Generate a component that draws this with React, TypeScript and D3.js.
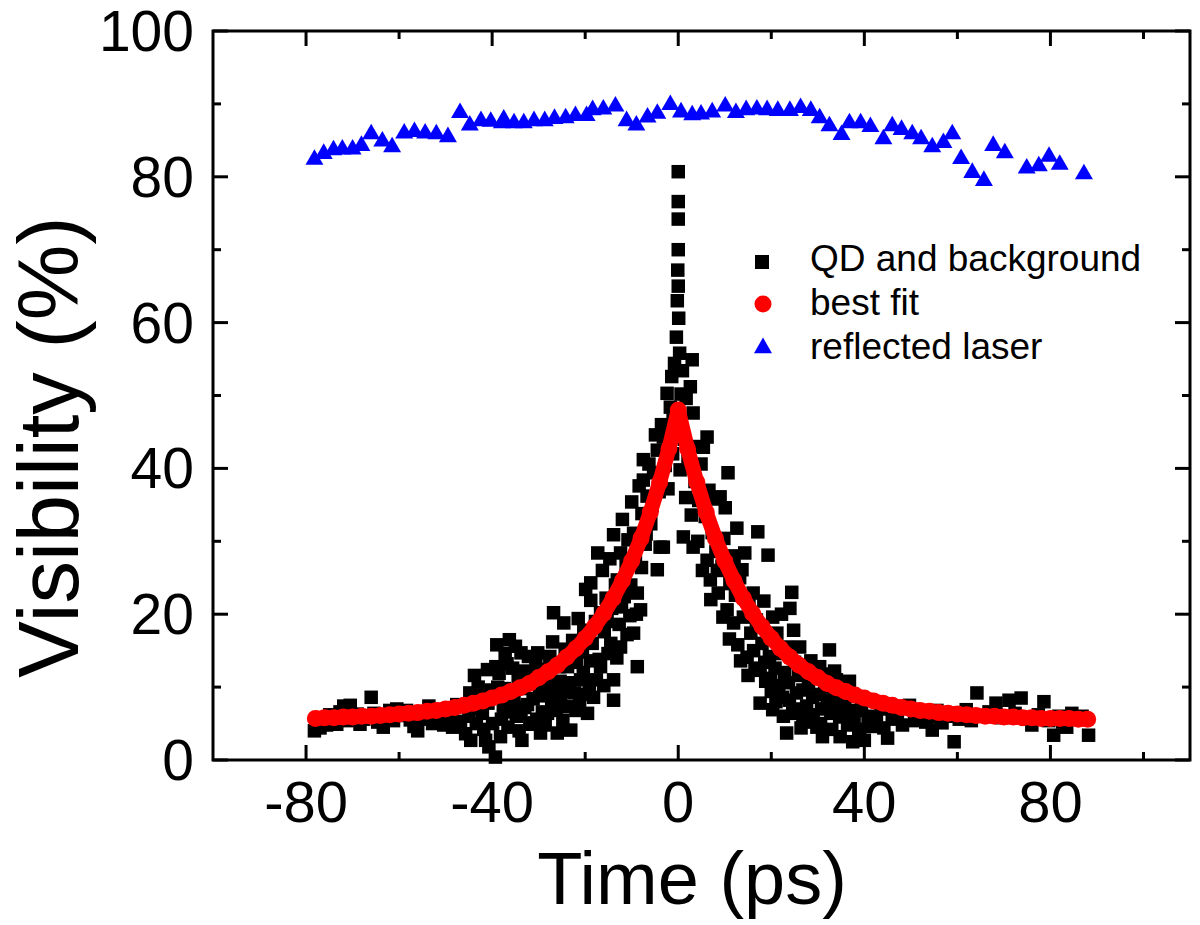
import React from "react";
import * as d3 from "d3";

// QD and background (time ps, visibility %)
const qdData: [number, number][] = [
  [-78.2,4.0],[-77.6,5.2],[-77.0,4.4],[-76.3,5.6],[-75.6,4.8],[-74.9,6.2],[-74.2,5.0],[-73.4,4.9],[-72.7,6.6],[-71.9,7.4],
  [-71.2,5.4],[-70.5,7.5],[-69.8,5.9],[-69.0,6.3],[-68.4,4.9],[-67.6,5.6],[-66.9,6.0],[-66.0,8.6],[-65.4,6.4],[-64.6,5.2],
  [-63.4,4.5],[-62.7,5.8],[-62.0,6.8],[-61.2,5.4],[-60.5,7.0],[-59.8,6.1],[-58.4,6.8],[-57.6,5.5],[-56.8,4.6],[-56.0,4.0],
  [-55.2,6.3],[-54.4,5.6],[-53.6,7.4],[-52.8,5.0],[-52.0,5.4],[-51.2,6.2],[-50.4,4.8],[-49.6,6.9],[-48.8,5.4],[-48.5,4.5],
  [-47.6,7.6],[-46.8,5.3],[-45.7,3.6],[-45.0,6.0],[-44.6,2.7],[-44.0,8.8],[-43.4,5.0],[-43.0,10.0],[-42.4,8.2],[-42.1,6.4],
  [-41.4,2.7],[-41.0,12.4],[-40.7,1.8],[-40.2,9.6],[-39.6,8.6],[-39.3,0.4],[-39.0,15.8],[-38.8,10.0],[-38.5,11.9],[-38.0,5.6],
  [-37.6,7.2],[-37.2,14.6],[-36.6,4.5],[-36.3,16.5],[-36.0,9.4],[-35.6,12.6],[-35.3,8.2],[-34.8,6.0],[-34.4,11.0],[-33.8,14.7],
  [-33.8,6.4],[-33.6,2.7],[-33.2,9.8],[-32.8,12.2],[-32.4,7.6],[-31.9,4.9],[-31.5,10.4],[-31.0,11.9],[-31.0,5.1],[-30.6,13.6],
  [-30.2,14.7],[-29.8,8.8],[-29.6,3.7],[-29.2,6.6],[-28.8,12.4],[-28.4,9.4],[-28.1,11.0],[-28.1,6.4],[-27.6,14.2],[-27.2,7.8],
  [-26.8,20.2],[-26.4,10.2],[-26.0,3.7],[-25.6,12.8],[-25.2,8.6],[-24.6,18.8],[-24.3,15.2],[-23.8,12.8],[-23.8,7.3],[-23.4,10.6],
  [-23.1,4.1],[-22.7,16.4],[-22.3,9.2],[-21.9,13.4],[-21.5,19.4],[-21.0,11.0],[-20.6,14.8],[-20.3,17.8],[-19.9,23.4],[-19.5,6.4],
  [-19.1,10.4],[-18.8,24.3],[-18.8,21.9],[-18.5,16.0],[-18.2,8.6],[-17.8,19.0],[-17.3,28.4],[-17.0,13.8],[-16.7,20.2],[-16.7,12.8],
  [-16.3,26.0],[-15.9,17.6],[-15.5,22.2],[-15.1,14.6],[-14.7,27.6],[-14.3,20.8],[-13.9,30.9],[-13.9,11.0],[-13.9,8.2],[-13.5,24.0],
  [-13.1,24.7],[-12.7,18.6],[-12.4,28.4],[-12.4,15.5],[-12.0,33.0],[-11.6,22.4],[-11.2,26.8],[-10.8,30.2],[-10.4,19.8],[-10.0,35.4],
  [-9.6,31.1],[-9.6,17.4],[-9.2,27.2],[-8.8,22.9],[-8.8,12.8],[-8.4,37.6],[-8.1,20.6],[-7.8,33.8],[-7.5,41.2],[-7.5,38.4],
  [-7.1,29.6],[-6.7,36.2],[-6.3,40.6],[-5.9,32.4],[-5.3,39.4],[-4.9,44.6],[-4.5,42.5],[-4.5,26.1],[-4.1,36.8],[-3.9,29.2],
  [-3.6,46.0],[-3.2,44.3],[-3.2,29.2],[-2.8,40.4],[-2.4,50.3],[-2.0,45.6],[-1.7,48.4],[-1.4,52.6],[-1.1,46.6],[-0.8,54.4],
  [-0.4,58.0],[-0.2,63.0],[0.0,80.7],[0.0,76.6],[0.0,74.2],[0.0,70.0],[-0.1,67.2],[0.0,65.0],[0.1,60.6],[0.3,55.8],
  [0.4,39.8],[0.6,50.2],[0.9,53.4],[1.1,30.6],[1.3,44.0],[1.7,49.6],[2.1,41.6],[2.6,51.2],[3.0,54.9],[3.2,47.6],
  [3.2,29.2],[3.6,38.2],[4.0,43.0],[4.4,35.6],[4.9,40.6],[5.4,42.9],[5.8,33.4],[6.2,44.3],[6.2,27.4],[6.6,37.0],
  [6.9,24.7],[7.3,31.2],[7.7,35.8],[8.1,28.6],[8.6,22.9],[9.0,36.1],[9.4,26.6],[9.8,30.4],[10.1,34.6],[10.5,20.6],
  [10.7,39.4],[11.1,24.2],[11.5,28.0],[11.9,18.8],[12.3,22.6],[12.6,31.8],[12.8,15.8],[13.2,25.0],[13.7,26.1],[14.0,19.6],
  [14.3,28.4],[14.8,14.1],[15.2,21.2],[15.6,17.4],[16.1,22.9],[16.5,12.6],[16.8,19.2],[17.1,31.3],[17.6,12.3],[17.6,7.8],
  [18.0,16.0],[18.4,21.8],[18.8,10.8],[19.3,28.1],[19.6,14.2],[20.0,9.4],[20.3,19.6],[20.3,6.9],[20.8,12.6],[21.2,17.4],
  [21.6,10.2],[22.0,14.6],[22.4,8.6],[22.8,12.0],[23.3,15.5],[23.3,3.7],[23.7,10.6],[24.0,20.8],[24.4,23.0],[24.6,6.4],
  [25.0,13.4],[25.4,9.2],[25.8,11.6],[26.1,15.5],[26.8,9.6],[26.8,5.9],[27.2,12.2],[27.6,7.4],[28.0,10.4],[28.5,13.6],
  [28.9,8.6],[29.3,11.4],[29.8,4.5],[30.2,9.0],[30.4,12.8],[30.8,7.0],[31.0,3.2],[31.5,10.0],[32.0,8.2],[32.5,15.1],
  [32.8,6.6],[33.2,6.4],[33.6,12.2],[34.0,11.0],[34.3,8.0],[34.7,5.9],[35.3,10.6],[35.8,7.4],[36.4,4.8],[37.0,8.8],
  [37.5,2.5],[38.2,6.8],[38.8,4.2],[39.4,7.6],[40.0,2.7],[40.8,6.0],[41.6,4.6],[42.6,5.8],[43.6,7.0],[44.2,4.4],
  [45.0,3.0],[46.0,5.6],[47.1,6.2],[48.2,4.8],[49.7,7.5],[50.8,5.4],[52.0,6.6],[53.2,5.2],[54.6,4.1],[54.6,5.9],
  [55.6,6.8],[56.7,5.1],[57.8,6.0],[59.3,2.5],[60.4,5.6],[61.9,6.9],[63.0,5.4],[64.2,9.2],[65.4,6.0],[66.8,6.6],
  [68.3,7.8],[69.6,5.8],[71.1,8.2],[72.4,6.4],[73.7,8.5],[75.0,5.6],[76.0,4.8],[77.4,6.2],[78.6,8.0],[79.6,5.4],
  [80.7,3.4],[81.8,6.0],[82.6,5.2],[83.5,4.5],[84.6,6.4],[85.8,5.6],[86.8,6.0],[88.2,3.4],
  [-44.8,9.2],[-43.8,11.6],[-42.8,7.0],[-41.8,4.2],[-40.9,7.8],[-39.9,5.0],[-39.2,12.8],[-38.2,3.2],[-37.4,9.8],[-36.8,13.2],
  [-36.2,6.6],[-35.0,15.6],[-34.2,4.0],[-33.0,7.2],[-32.2,14.2],[-31.2,8.4],[-30.4,5.6],[-29.4,10.6],[-28.6,4.8],[-27.8,9.0],
  [-27.0,16.2],[-26.2,6.8],[-25.4,10.8],[-24.8,5.4],[-24.0,9.4],[-23.0,13.8],[-22.0,6.8],[-21.2,8.2],[-20.4,12.0],[-19.6,9.0],
  [-18.9,13.6],[-17.6,11.0],[-16.0,10.2],[-15.3,19.0],[-14.5,16.0],[-13.2,14.0],[-12.2,21.0],[-11.0,17.2],[-10.2,24.0],[-9.0,20.0],
  [-7.9,26.4],[-6.9,31.0],[-5.6,35.0],[-2.2,37.2],[-1.2,42.0],
  [1.6,36.0],[2.8,33.6],[4.2,30.0],[5.2,26.0],[7.0,22.0],[8.4,26.0],[9.6,19.6],[11.0,16.6],[12.0,27.0],[13.4,13.6],
  [15.0,11.6],[16.2,15.0],[18.6,13.4],[19.8,11.2],[21.0,8.0],[22.6,6.0],[23.9,8.2],[25.6,7.0],[26.4,4.4],[27.8,5.2],
  [29.0,6.2],[30.6,5.0],[31.8,11.8],[33.0,4.2],[34.8,3.2],[36.0,6.2],[37.8,5.0],[39.0,3.6],[36.8,10.8],[24.8,17.8],
  [22.2,20.0],
];

// best fit (time ps, visibility %)
const fitData: [number, number][] = [
  [-78,5.7],[-76,5.8],[-74,5.8],[-72,5.9],[-70,5.9],[-68,6.0],[-66,6.0],[-64,6.1],[-62,6.2],[-60,6.3],
  [-58,6.4],[-56,6.5],[-54,6.7],[-52,6.8],[-50,7.0],[-48,7.2],[-46,7.5],[-44,7.8],[-42,8.1],[-40,8.5],
  [-38,8.9],[-36,9.4],[-34,9.9],[-32,10.5],[-30,11.3],[-28,12.1],[-26,13.0],[-24,14.1],[-22,15.3],[-20,16.7],
  [-18,18.3],[-16,20.1],[-14,22.2],[-12,24.6],[-10,27.3],[-8,30.4],[-6,34.0],[-4,38.1],[-2,42.7],[0,48.0],
  [2,42.7],[4,38.1],[6,34.0],[8,30.4],[10,27.3],[12,24.6],[14,22.2],[16,20.1],[18,18.3],[20,16.7],
  [22,15.3],[24,14.1],[26,13.0],[28,12.1],[30,11.3],[32,10.5],[34,9.9],[36,9.4],[38,8.9],[40,8.5],
  [42,8.1],[44,7.8],[46,7.5],[48,7.2],[50,7.0],[52,6.8],[54,6.7],[56,6.5],[58,6.4],[60,6.3],
  [62,6.2],[64,6.1],[66,6.0],[68,6.0],[70,5.9],[72,5.9],[74,5.8],[76,5.8],[78,5.7],[80,5.7],
  [82,5.7],[84,5.7],[86,5.6],[88,5.6],
];

// reflected laser (time ps, visibility %)
const laserData: [number, number][] = [
  [-78.2,82.5],[-76.2,83.3],[-74.1,83.8],[-72.2,83.9],[-70.0,83.9],[-68.1,84.4],[-66.0,86.0],[-63.6,85.0],[-61.5,84.2],[-58.9,86.1],
  [-56.7,86.3],[-54.4,86.1],[-52.0,86.0],[-49.5,85.6],[-46.9,88.9],[-44.8,87.2],[-42.4,87.8],[-40.3,87.7],[-37.9,87.5],[-37.5,88.0],
  [-35.3,87.5],[-33.2,87.5],[-31.0,87.8],[-28.7,87.8],[-26.6,88.1],[-24.2,88.2],[-22.1,88.5],[-19.7,88.5],[-18.4,89.3],[-16.1,89.4],
  [-13.5,89.8],[-11.1,87.8],[-9.0,87.2],[-6.6,88.3],[-4.5,88.8],[-1.7,90.0],[0.6,89.0],[3.0,88.6],[4.9,88.7],[7.3,89.0],
  [10.1,89.8],[12.4,88.9],[14.6,89.3],[16.9,89.4],[19.1,89.3],[21.4,89.2],[24.0,89.2],[26.3,89.6],[28.5,89.2],[30.4,88.2],
  [32.5,87.1],[35.1,85.9],[36.8,87.5],[39.2,87.5],[41.3,87.0],[44.1,85.3],[46.0,87.1],[48.0,86.6],[50.3,86.0],[52.2,85.3],
  [54.6,84.2],[57.0,84.8],[58.9,86.0],[60.8,82.6],[63.2,80.7],[65.7,79.6],[67.7,84.4],[70.2,83.4],[74.9,81.3],[77.5,81.6],
  [79.7,82.9],[82.0,81.8],[87.2,80.5],
];

const xMajorTicks = [-80, -40, 0, 40, 80];
const xMinorTicks = [-60, -20, 20, 60, 100];
const yMajorTicks = [0, 20, 40, 60, 80, 100];
const yMinorTicks = [10, 30, 50, 70, 90];

const legendItems = ["QD and background", "best fit", "reflected laser"];

const FONT = "'Liberation Sans', Arial, Helvetica, sans-serif";

export default function App() {
  const W = 1200;
  const H = 925;
  const left = 213, right = 1190, top = 31, bottom = 760;
  const x = d3.scaleLinear().domain([-100, 110]).range([left, right]);
  const y = d3.scaleLinear().domain([0, 100]).range([bottom, top]);

  const squarePath = d3.symbol().type(d3.symbolSquare).size(13.5 * 13.5)() as string;
  const trianglePath = d3.symbol().type(d3.symbolTriangle).size(140)() as string;
  const fitLine = d3
    .line<[number, number]>()
    .x((d) => x(d[0]))
    .y((d) => y(d[1]))(fitData) as string;

  const sw = 3;
  const majorLen = 15;
  const minorLen = 8;

  return (
    <svg
      width={W}
      height={H}
      viewBox={`0 0 ${W} ${H}`}
      style={{ position: "absolute", left: 0, top: 0, display: "block", background: "#fff" }}
    >
      <rect x={0} y={0} width={W} height={H} fill="#fff" />

      {/* QD squares */}
      <g fill="#000">
        {qdData.map((d, i) => (
          <path key={i} d={squarePath} transform={`translate(${x(d[0])},${y(d[1])})`} />
        ))}
      </g>

      {/* reflected laser triangles */}
      <g fill="#0000ff">
        {laserData.map((d, i) => (
          <path key={i} d={trianglePath} transform={`translate(${x(d[0])},${y(d[1]) + 1})`} />
        ))}
      </g>

      {/* best fit */}
      <path d={fitLine} fill="none" stroke="#ff0000" strokeWidth={15} strokeLinejoin="round" strokeLinecap="round" />
      <g fill="#ff0000">
        {fitData.map((d, i) => (
          <circle key={i} cx={x(d[0])} cy={y(d[1])} r={8.5} />
        ))}
      </g>

      {/* frame */}
      <rect x={left} y={top} width={right - left} height={bottom - top} fill="none" stroke="#000" strokeWidth={sw} />

      {/* ticks */}
      <g stroke="#000" strokeWidth={sw}>
        {xMajorTicks.map((t) => (
          <g key={"xM" + t}>
            <line x1={x(t)} x2={x(t)} y1={bottom} y2={bottom - majorLen} />
            <line x1={x(t)} x2={x(t)} y1={top} y2={top + majorLen} />
          </g>
        ))}
        {xMinorTicks.map((t) => (
          <g key={"xm" + t}>
            <line x1={x(t)} x2={x(t)} y1={bottom} y2={bottom - minorLen} />
            <line x1={x(t)} x2={x(t)} y1={top} y2={top + minorLen} />
          </g>
        ))}
        {yMajorTicks.map((t) => (
          <g key={"yM" + t}>
            <line x1={left} x2={left + majorLen} y1={y(t)} y2={y(t)} />
            <line x1={right} x2={right - majorLen} y1={y(t)} y2={y(t)} />
          </g>
        ))}
        {yMinorTicks.map((t) => (
          <g key={"ym" + t}>
            <line x1={left} x2={left + minorLen} y1={y(t)} y2={y(t)} />
            <line x1={right} x2={right - minorLen} y1={y(t)} y2={y(t)} />
          </g>
        ))}
      </g>

      {/* tick labels */}
      <g fontFamily={FONT} fill="#000">
        {xMajorTicks.map((t) => (
          <text key={"xl" + t} x={x(t)} y={822} fontSize={58} textAnchor="middle">
            {t}
          </text>
        ))}
        {yMajorTicks.map((t) => (
          <text key={"yl" + t} x={194} y={y(t) + 20} fontSize={57} textAnchor="end">
            {t}
          </text>
        ))}
      </g>

      {/* axis titles */}
      <text x={692} y={904} fontFamily={FONT} fontSize={74} textAnchor="middle" fill="#000">
        Time (ps)
      </text>
      <text
        transform={`translate(78,447) rotate(-90)`}
        fontFamily={FONT}
        fontSize={85}
        textAnchor="middle"
        fill="#000"
      >
        Visibility (%)
      </text>

      {/* legend */}
      <g fontFamily={FONT} fontSize={37} fill="#000">
        <path d={d3.symbol().type(d3.symbolSquare).size(14 * 14)() as string} transform="translate(762,262)" fill="#000" />
        <circle cx={763} cy={304} r={8.5} fill="#ff0000" />
        <path d={trianglePath} transform="translate(763,348)" fill="#0000ff" />
        {legendItems.map((s, i) => (
          <text key={s} x={810} y={271 + i * 44}>
            {s}
          </text>
        ))}
      </g>
    </svg>
  );
}
